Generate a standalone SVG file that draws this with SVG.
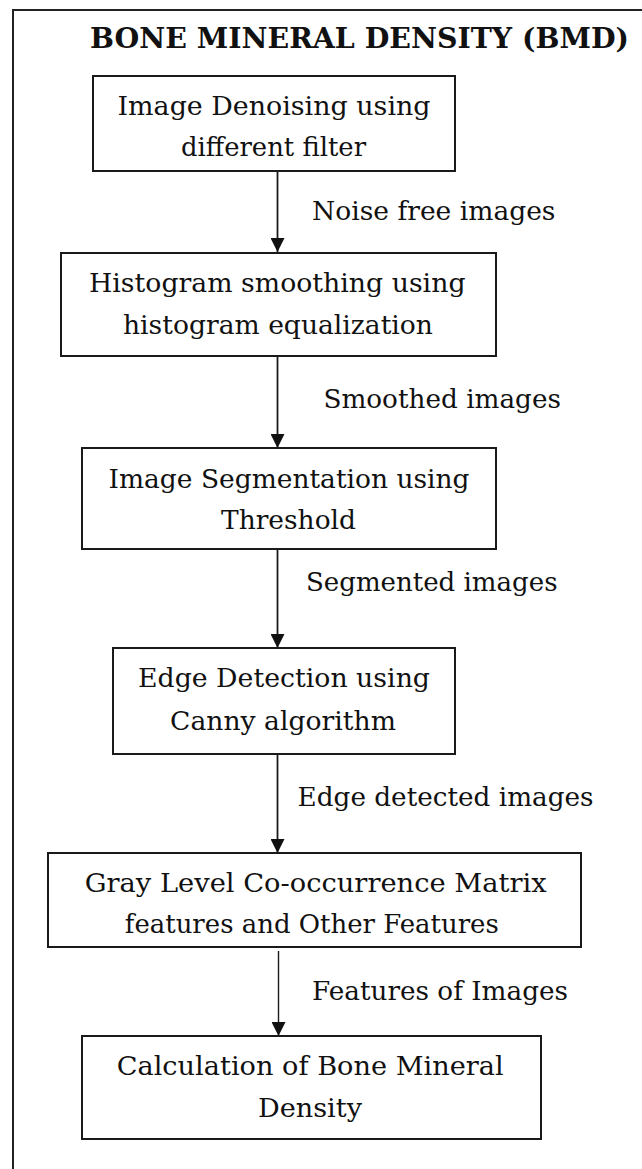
<svg xmlns="http://www.w3.org/2000/svg" width="642" height="1169" viewBox="0 0 642 1169">
  <style>
    .box { fill: #ffffff; stroke: #1a1a1a; stroke-width: 2; }
    .txt { font-family: "DejaVu Serif", "Liberation Serif", serif; font-size: 26.5px; fill: #111111; }
    .title { font-family: "DejaVu Serif", "Liberation Serif", serif; font-size: 27px; font-weight: bold; fill: #111111; }
    .conn { stroke: #1a1a1a; stroke-width: 1.8; fill: none; marker-end: url(#arrow); }
    .frame { stroke: #222222; stroke-width: 2; fill: none; }
  </style>
  <defs>
    <marker id="arrow" markerUnits="userSpaceOnUse" markerWidth="14" markerHeight="14" refX="14" refY="7" orient="auto">
      <path d="M0,0 L14,7 L0,14 z" fill="#111111"/>
    </marker>
  </defs>
  <rect width="642" height="1169" fill="#ffffff"/>
  <path class="frame" d="M13,1170 V10 H643"/>
  <text class="title" x="90" y="48" textLength="539" lengthAdjust="spacingAndGlyphs">BONE MINERAL DENSITY (BMD)</text>

  <g id="connectors">
    <line class="conn" x1="277.5" y1="172" x2="277.5" y2="252"/>
    <line class="conn" x1="277.5" y1="356" x2="277.5" y2="448"/>
    <line class="conn" x1="277.5" y1="549" x2="277.5" y2="648"/>
    <line class="conn" x1="277.5" y1="754" x2="277.5" y2="853"/>
    <line class="conn" x1="278.5" y1="951" x2="278.5" y2="1036" style="stroke-width:1.4"/>
    <text class="txt" x="312" y="220" textLength="243.5" lengthAdjust="spacingAndGlyphs">Noise free images</text>
    <text class="txt" x="323.4" y="407.5" textLength="237.6" lengthAdjust="spacingAndGlyphs">Smoothed images</text>
    <text class="txt" x="306" y="591" textLength="251.5" lengthAdjust="spacingAndGlyphs">Segmented images</text>
    <text class="txt" x="297.6" y="806" textLength="296" lengthAdjust="spacingAndGlyphs">Edge detected images</text>
    <text class="txt" x="312" y="1000" textLength="256" lengthAdjust="spacingAndGlyphs">Features of Images</text>
  </g>

  <g id="node-denoising">
    <rect class="box" x="93" y="76" width="362" height="95"/>
    <text class="txt" x="117.5" y="115" textLength="313" lengthAdjust="spacingAndGlyphs">Image Denoising using</text>
    <text class="txt" x="181" y="156" textLength="185" lengthAdjust="spacingAndGlyphs">different filter</text>
  </g>
  <g id="node-histogram">
    <rect class="box" x="61" y="253" width="435" height="103"/>
    <text class="txt" x="89" y="292" textLength="376.5" lengthAdjust="spacingAndGlyphs">Histogram smoothing using</text>
    <text class="txt" x="123" y="333.5" textLength="310" lengthAdjust="spacingAndGlyphs">histogram equalization</text>
  </g>
  <g id="node-segmentation">
    <rect class="box" x="82" y="448" width="414" height="101"/>
    <text class="txt" x="108.5" y="487.5" textLength="361" lengthAdjust="spacingAndGlyphs">Image Segmentation using</text>
    <text class="txt" x="221" y="529" textLength="135" lengthAdjust="spacingAndGlyphs">Threshold</text>
  </g>
  <g id="node-edge">
    <rect class="box" x="113" y="648" width="342" height="106"/>
    <text class="txt" x="138" y="687" textLength="292" lengthAdjust="spacingAndGlyphs">Edge Detection using</text>
    <text class="txt" x="170" y="730" textLength="226" lengthAdjust="spacingAndGlyphs">Canny algorithm</text>
  </g>
  <g id="node-glcm">
    <rect class="box" x="48" y="853" width="533" height="94"/>
    <text class="txt" x="84.7" y="891.5" textLength="462" lengthAdjust="spacingAndGlyphs">Gray Level Co-occurrence Matrix</text>
    <text class="txt" x="124.8" y="932.5" textLength="374" lengthAdjust="spacingAndGlyphs">features and Other Features</text>
  </g>
  <g id="node-bmd">
    <rect class="box" x="82" y="1036" width="459" height="103"/>
    <text class="txt" x="116.7" y="1075" textLength="387" lengthAdjust="spacingAndGlyphs">Calculation of Bone Mineral</text>
    <text class="txt" x="258" y="1116.5" textLength="104" lengthAdjust="spacingAndGlyphs">Density</text>
  </g>
</svg>
